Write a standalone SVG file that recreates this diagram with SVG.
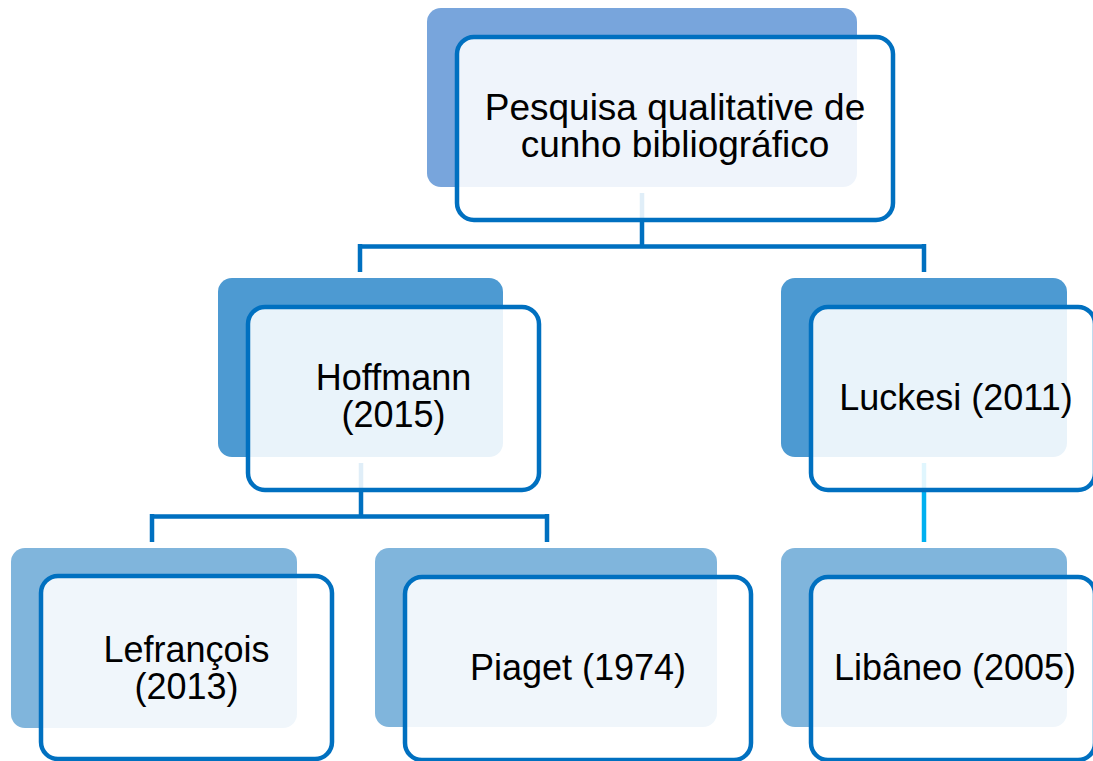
<svg xmlns="http://www.w3.org/2000/svg" width="1093" height="761" viewBox="0 0 1093 761">
<style>
.conn{fill:none;stroke:#0070c0;stroke-width:4.5}
.conn2{fill:none;stroke:#00b0f0;stroke-width:4.5}
.b1{fill:#78a5dc}
.b2{fill:#4d9ad2}
.b3{fill:#80b5dc}
.front{fill:#ffffff;fill-opacity:0.88;stroke:#0070c0;stroke-width:4.5}
text{font-family:"Liberation Sans",Arial,sans-serif;font-size:36px;fill:#000;text-anchor:middle}
.big{font-size:37px}
</style>
<rect width="1093" height="761" fill="#ffffff"/>
<g id="connectors">
<path class="conn" d="M642 193 V246.5 M360 246.5 H924 M360 244 V272 M924 244 V272"/>
<path class="conn" d="M361 463 V516.5 M152 516.5 H547 M152 514 V542 M547 514 V542"/>
<path class="conn2" d="M924 463 V542"/>
</g>
<g id="n-top">
<rect class="b1" x="427" y="8" width="430" height="179" rx="14"/>
<rect class="front" x="457" y="37" width="436" height="183" rx="17"/>
<text class="big" x="675" y="120">Pesquisa qualitative de</text>
<text class="big" x="675" y="157">cunho bibliográfico</text>
</g>
<g id="n-hoffmann">
<rect class="b2" x="218" y="278" width="285" height="179" rx="14"/>
<rect class="front" x="248" y="307" width="291" height="183" rx="17"/>
<text x="393.5" y="390">Hoffmann</text>
<text x="393.5" y="427">(2015)</text>
</g>
<g id="n-luckesi">
<rect class="b2" x="781" y="278" width="286" height="179" rx="14"/>
<rect class="front" x="811" y="307" width="284" height="183" rx="17"/>
<text x="956" y="410">Luckesi (2011)</text>
</g>
<g id="n-lefrancois">
<rect class="b3" x="11" y="548" width="286" height="180" rx="14"/>
<rect class="front" x="41" y="576" width="291" height="183" rx="17"/>
<text x="186.5" y="662">Lefrançois</text>
<text x="186.5" y="699">(2013)</text>
</g>
<g id="n-piaget">
<rect class="b3" x="375" y="548" width="342" height="179" rx="14"/>
<rect class="front" x="405" y="577" width="346" height="183" rx="17"/>
<text x="578" y="680">Piaget (1974)</text>
</g>
<g id="n-libaneo">
<rect class="b3" x="781" y="548" width="286" height="179" rx="14"/>
<rect class="front" x="811" y="577" width="284" height="183" rx="17"/>
<text x="955" y="680">Libâneo (2005)</text>
</g>
</svg>
